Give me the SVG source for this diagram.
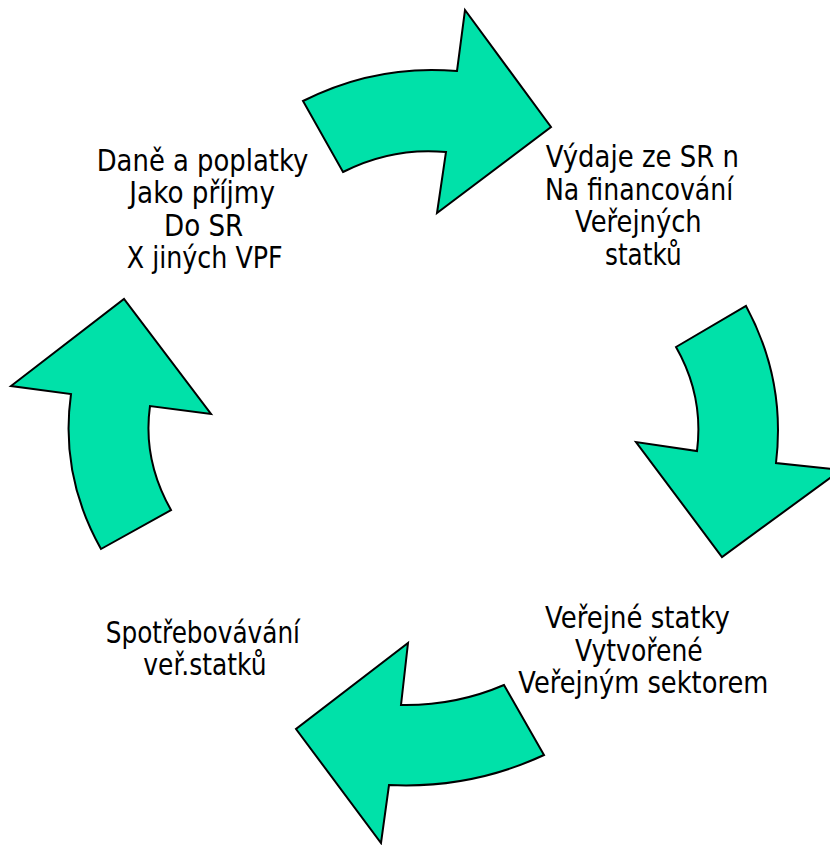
<svg xmlns="http://www.w3.org/2000/svg" width="830" height="845" viewBox="0 0 830 845">
<style>
.arrow{fill:#00E1A9;stroke:#000;stroke-width:2;stroke-linejoin:miter}
.lbl{font-family:"DejaVu Sans","Noto Sans",sans-serif;font-size:29.5px;fill:#000}
</style>
<rect width="830" height="845" fill="#fff"/>
<g id="connectors">
<path id="arrow-top" class="arrow" d="M303,101 Q376,64 457,71 L465,10 L551,127 L437,213 L446,152 Q392,147 343,172 Z"/>
<path id="arrow-right" class="arrow" d="M746,306 Q786,380 776,463 L841,470 L722,557 L636,442 L697,451 Q704,396 676,347 Z"/>
<path id="arrow-bottom" class="arrow" d="M504,685 Q455,706 401,705 L408,643 L296,729 L381,843 L389,785 Q471,789 544,755 Z"/>
<path id="arrow-left" class="arrow" d="M101,549 L171,510 Q142.5,459.6 150,406 L211,414 L124,299 L11,386 L71,394 Q59.6,475.4 101,549 Z"/>
</g>
<g id="node-dane">
<text class="lbl" x="96.7" y="170.7" textLength="211.7" lengthAdjust="spacingAndGlyphs">Daně a poplatky</text>
<text class="lbl" x="129.3" y="203.2" textLength="145.7" lengthAdjust="spacingAndGlyphs">Jako příjmy</text>
<text class="lbl" x="164" y="235.7" textLength="79.3" lengthAdjust="spacingAndGlyphs">Do SR</text>
<text class="lbl" x="126.7" y="268.2" textLength="156" lengthAdjust="spacingAndGlyphs">X jiných VPF</text>
</g>
<g id="node-vydaje">
<text class="lbl" x="545.7" y="166.7" textLength="193.3" lengthAdjust="spacingAndGlyphs">Výdaje ze SR n</text>
<text class="lbl" x="545" y="199.5" textLength="188.3" lengthAdjust="spacingAndGlyphs">Na financování</text>
<text class="lbl" x="575" y="232.3" textLength="126.7" lengthAdjust="spacingAndGlyphs">Veřejných</text>
<text class="lbl" x="605" y="265.1" textLength="76.7" lengthAdjust="spacingAndGlyphs">statků</text>
</g>
<g id="node-verejne">
<text class="lbl" x="545" y="628.3" textLength="185" lengthAdjust="spacingAndGlyphs">Veřejné statky</text>
<text class="lbl" x="575" y="661" textLength="127.7" lengthAdjust="spacingAndGlyphs">Vytvořené</text>
<text class="lbl" x="518.3" y="693.3" textLength="250" lengthAdjust="spacingAndGlyphs">Veřejným sektorem</text>
</g>
<g id="node-spotreba">
<text class="lbl" x="105.7" y="643.3" textLength="194.3" lengthAdjust="spacingAndGlyphs">Spotřebovávání</text>
<text class="lbl" x="143.3" y="675" textLength="123.3" lengthAdjust="spacingAndGlyphs">veř.statků</text>
</g>
</svg>
